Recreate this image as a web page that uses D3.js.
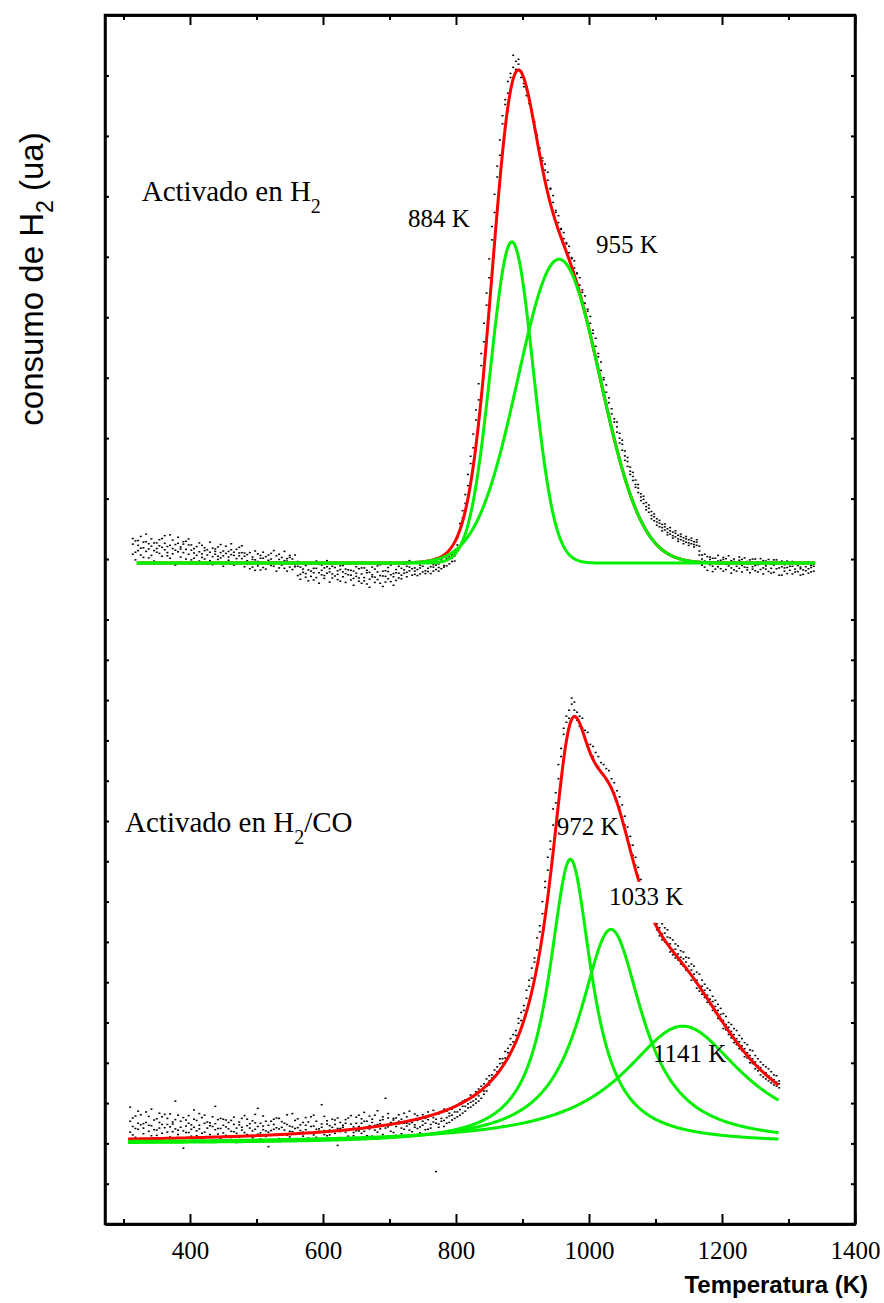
<!DOCTYPE html>
<html>
<head>
<meta charset="utf-8">
<script src="https://cdn.jsdelivr.net/npm/d3@7"></script>
<style>
  body { margin: 0; background: #fff; }
  svg { display: block; }
</style>
</head>
<body>
<svg id="chart" width="884" height="1303"></svg>
<script>
// TPR profiles: H2 consumption versus temperature for two activation treatments,
// with the measured signal (dots), the fitted envelope (red) and fitted peaks (green).

// Axis ticks
const xMajorTicks = [400, 600, 800, 1000, 1200, 1400];
const xMinorTicks = [300, 500, 700, 900, 1100, 1300];
const yTicksUpper = [15, 16.5, 18, 19.5, 21, 22.5, 24, 25.5, 27, 28.5];
const yTicksLower = [1, 2, 3, 4, 5, 6, 7, 8, 9, 10, 11, 12, 13, 14];

// Vertical offsets of the two stacked profiles (ua)
const offsetH2 = 16.4;
const offsetH2CO = 2.0;

// Fitted Gaussian peaks, sample activated in H2
const peaksH2 = [884, 955];
const heightsH2 = [7.97, 7.54];
const sigmasH2 = [32, 62];

// Fitted Lorentzian peaks, sample activated in H2/CO
const peaksH2CO = [972, 1033, 1141];
const heightsH2CO = [7.05, 5.31, 2.91];
const widthsH2CO = [39, 58, 110];

// Detector readings, activated in H2: [T (K), readings (ua)...]
const scanH2 = [
  [314,.47,.22,.61],[318,.27,.55,.08],[322,.56,.31,.44],[326,.2,.66,.37],[330,.38,.14,.52],
  [334,.53,.29,.72],[338,.13,.48,.35],[342,.42,.6,.19],[346,.31,.05,.5],[350,.5,.36,.27],
  [354,.24,.58,.43],[358,.61,.17,.39],[362,.33,.49,.68],[366,.18,.41,.26],[370,.44,.7,.12],
  [374,.36,.23,.57],[378,-.05,.46,.32],[382,.49,.28,.64],[386,.4,.15,.35],[390,.26,.53,.47],
  [394,.54,.34,.1],[398,.22,.45,.6],[402,.32,.08,.45],[406,.12,.36,.25],[410,.41,.19,-.02],
  [414,.05,.28,.5],[418,.23,.44,.14],[422,.38,.1,.31],[426,-.02,.33,.2],[430,.27,.52,.06],
  [434,.16,-.04,.37],[438,.35,.22,.29],[442,.09,.4,.17],[446,.46,.13,.26],[450,.18,.3,-.08],
  [454,.03,.24,.42],[458,.29,.07,.15],[462,.21,.48,.33],[466,-.05,.19,.27],[470,.34,.11,.02],
  [474,.25,.39,.18],[478,.11,.26,.43],[482,.17,-.09,.25],[486,-.03,.21,.06],[490,.26,.02,-.14],
  [494,-.1,.15,.09],[498,.08,-.18,.3],[502,.23,.04,-.07],[506,-.17,.12,.19],[510,.12,.27,-.11],
  [514,.01,-.15,.16],[518,.2,.07,-.02],[522,-.06,.24,.1],[526,.31,-.08,.03],[530,.03,.18,-.2],
  [534,-.12,.09,.22],[538,.14,-.05,.01],[542,.06,.29,-.13],[546,-.2,.11,.05],[550,.19,-.1,.14],
  [554,.1,.02,-.16],[558,-.04,.2,-.09],[562,-.08,-.31,.04],[566,-.28,-.1,-.4],[570,.01,-.23,-.15],
  [574,-.35,-.06,-.26],[578,-.17,-.44,0],[582,-.02,-.2,-.33],[586,-.42,-.13,-.24],[590,-.13,-.36,.05],
  [594,-.24,-.03,-.5],[598,-.05,-.29,-.18],[602,-.31,-.12,-.38],[606,.06,-.25,-.09],[610,-.22,-.47,-.14],
  [614,-.37,-.08,-.27],[618,-.11,-.32,.02],[622,-.19,-.41,-.28],[626,-.45,-.16,-.07],[630,-.06,-.34,-.22],
  [634,-.15,-.26,-.48],[638,-.29,-.02,-.17],[642,-.18,-.42,-.3],[646,-.38,-.2,-.55],[650,-.09,-.33,-.25],
  [654,-.45,-.14,-.37],[658,-.27,-.5,-.12],[662,-.12,-.36,-.44],[666,-.52,-.24,-.18],[670,-.23,-.4,-.6],
  [674,-.34,-.1,-.29],[678,-.15,-.48,-.35],[682,-.41,-.22,-.07],[686,-.04,-.31,-.5],[690,-.32,-.58,-.2],
  [694,-.47,-.19,-.33],[698,-.21,-.39,-.11],[702,-.29,-.05,-.46],[706,-.55,-.26,-.34],[710,-.16,-.43,-.24],
  [714,-.25,-.37,-.08],[718,-.39,-.13,-.3],[722,-.03,-.25,-.17],[726,-.23,-.08,-.34],[730,.06,-.19,-.1],
  [734,-.3,-.14,.02],[738,-.12,-.28,-.2],[742,.03,-.16,-.31],[746,-.27,-.05,-.12],[750,-.08,-.22,.04],
  [754,-.19,.01,-.26],[758,0,-.13,-.21],[762,-.26,-.09,.03],[766,-.1,-.2,-.04],[770,-.05,.07,-.16],
  [774,-.2,-.02,-.11],[778,.02,-.14,.08],[782,-.06,.05,-.1],[786,.08,-.07,.12],[790,-.02,.1,.15],
  [794,.12,.2,.04],[798,.05,.28,.18],
  [802,.45,.62],[806,.82,.98],[810,1.12,1.3],[814,1.48,1.7],[818,1.92,2.2],[822,2.47,2.65],
  [826,2.86,3.2],[830,3.55,3.8],[834,4.05,4.45],[838,4.9,5.2],[842,5.49,5.95],[846,6.4,6.7],
  [850,7.08,7.55],[854,8.02,8.35],[858,8.7,9.15],[862,9.58,9.85],[866,10.12,10.5],[870,10.9,11.1],
  [874,11.38,11.5],[878,11.66,11.95],[882,12.15,12.05],[886,12.3,12.6],[890,12.45,12.25],[894,12.38,12.5],
  [898,12.2,12.05],[902,11.9,11.82],[906,11.75,11.6],[910,11.5,11.4],[914,11.25,11.1],[918,10.95,10.8],
  [922,10.62,10.45],[926,10.3,10.15],[930,9.98,10.05],[934,9.9,9.75],[938,9.7,9.5],[942,9.28,9.3],
  [946,9.12,8.95],[950,8.75,8.7],[954,8.62,8.45],[958,8.3,8.28],[962,8.2,8.05],[966,7.92,7.95],
  [970,7.86,7.7],[974,7.58,7.55],[978,7.5,7.32],[982,7.2,7.18],[986,7.08,6.9],[990,6.78,6.72],
  [994,6.63,6.45],[998,6.3,6.25],[1002,6.12,5.95],[1006,5.78,5.7],[1010,5.58,5.38],[1014,5.2,5.12],
  [1018,4.99,4.78],[1022,4.6,4.55],[1026,4.42,4.24],[1030,4.1,3.98],[1034,3.83,3.7],[1038,3.58,3.5],
  [1042,3.38,3.25,3.5],[1046,3.1,3.22,2.98],[1050,2.95,2.8,3.05],[1054,2.66,2.78,2.55],[1058,2.52,2.4,2.62],
  [1062,2.28,2.38,2.2],[1066,2.15,2.05,2.25],[1070,1.95,2.06,1.88],[1074,1.86,1.75,1.95],[1078,1.64,1.72,1.55],
  [1082,1.58,1.48,1.66],[1086,1.4,1.5,1.32],[1090,1.36,1.26,1.44],[1094,1.18,1.28,1.1],[1098,1.15,1.05,1.22],
  [1102,1.02,1.1,.94],[1106,.99,.9,1.06],[1110,.88,.96,.8],[1114,.9,.82,.97],[1118,.76,.85,.7],
  [1122,.8,.72,.88],[1126,.68,.77,.62],[1130,.74,.65,.8],[1134,.6,.69,.54],[1138,.66,.58,.72],
  [1142,.55,.63,.48],[1146,.6,.52,.66],[1150,.5,.58,.44],[1154,.56,.48,.62],[1158,.46,.53,.4],
  [1162,.52,.44,.58],[1166,.42,.3,.2],[1170,.1,-.05,.2],[1174,.22,-.1,.05],[1178,.02,.16,-.18],
  [1182,.15,-.04,.09],[1186,-.08,.12,-.21],[1190,.12,-.15,.03],[1194,.05,.19,-.09],[1198,-.14,.07,-.02],
  [1202,.09,-.2,.14],[1206,-.03,.11,-.16],[1210,.18,-.07,.01],[1214,-.12,.06,-.25],[1218,.04,-.17,.1],
  [1222,-.2,.02,-.08],[1226,.07,-.13,.15],[1230,-.06,.09,-.22],[1234,.13,-.1,-.01],[1238,-.17,.04,-.11],
  [1242,.01,-.24,.08],[1246,-.09,.1,-.15],[1250,.1,-.06,-.19],[1254,-.22,.03,-.04],[1258,-.02,-.16,.11],
  [1262,.06,-.12,-.27],[1266,-.15,.05,-.07],[1270,0,-.21,.09],[1274,-.25,-.03,-.13],[1278,-.05,.08,-.23],
  [1282,.08,-.14,-.01],[1286,-.12,.02,-.3],[1290,-.3,-.09,.05],[1294,-.04,-.2,-.12],[1298,.05,-.11,-.26],
  [1302,-.18,.01,-.08],[1306,-.08,-.27,.04],[1310,.02,-.15,-.22],[1314,-.21,-.06,0],[1318,-.1,-.3,-.14],
  [1322,-.28,-.02,-.17],[1326,0,-.19,-.09],[1330,-.14,.03,-.25],[1334,-.06,-.22,-.11],[1338,-.2,-.08,-.03]
];

// Detector readings, activated in H2/CO: [T (K), readings (ua)...]
const scanH2CO = [
  [310,.55,.28,.9],[314,.21,.63,.42],[318,.68,.37,.15],[322,.35,.8,.5],[326,.12,.46,.71],
  [330,.49,.24,.38],[334,.78,.52,.1],[338,.3,.67,.45],[342,.44,.19,.85],[346,.09,.58,.34],
  [350,.61,.33,.2],[354,.38,.75,.52],[358,.25,.47,.66],[362,.72,.14,.39],[366,.47,.62,.28],
  [370,.16,.41,.73],[374,.53,.29,.48],[378,1.05,.36,.59],[382,.33,.7,.22],[386,.4,.55,.13],
  [390,-.12,.31,.64],[394,.58,.43,.27],[398,.27,.69,.5],[402,.46,.18,.35],[406,.83,.4,.6],
  [410,.19,.57,.31],[414,.36,.74,.45],[418,.64,.25,.12],[422,.28,.5,.7],[426,.05,.38,.53],
  [430,.51,.22,.44],[434,.42,.66,.17],[438,.92,.34,.49],[442,.23,.59,.37],[446,.37,.13,.62],
  [450,.6,.45,.26],[454,.41,.2,.58],[458,.18,.52,.36],[462,.57,.3,.1],[466,.29,.47,.65],
  [470,.02,.38,.25],[474,.46,.15,.53],[478,.33,.62,.4],[482,.69,.27,.19],[486,.22,.44,.6],
  [490,.38,.08,.49],[494,.14,.56,.31],[498,.51,.35,.72],[502,.87,.23,.42],[506,.26,.5,.11],
  [510,.43,.68,.34],[514,.31,.17,.55],[518,-.08,.45,.28],[522,.55,.32,.07],[526,.35,.6,.47],
  [530,.2,.39,.63],[534,.62,.12,.36],[538,.4,.54,.24],[542,.11,.33,.5],[546,.47,.71,.2],
  [550,.3,.16,.43],[554,.74,.41,.29],[558,.24,.57,.37],[562,.39,.1,.61],[566,.06,.46,.32],
  [570,.52,.28,.18],[574,.34,.64,.45],[578,.27,.13,.53],[582,.66,.42,.26],[586,.43,.21,.7],
  [590,.15,.55,.35],[594,.36,.3,.09],[598,.96,.48,.4],[602,.32,.67,.22],[606,.48,.19,.56],
  [610,.21,.44,.33],[614,.4,.6,.14],[618,.58,.25,.47],[622,-.05,.37,.63],[626,.37,.52,.29],
  [630,.45,.11,.4],[634,.28,.59,.5],[638,.63,.34,.18],[642,.35,.48,.69],[646,.19,.27,.41],
  [650,.5,.65,.31],[654,.42,.7,.31],[658,.61,.25,.5],[662,.3,.55,.77],[666,.55,.4,.19],
  [670,.44,.68,.36],[674,.18,.52,.6],[678,.7,.33,.45],[682,.47,.81,.28],[686,.36,.57,.49],
  [690,.59,.22,.66],[694,1.12,.46,.38],[698,.41,.63,.74],[702,.52,.3,.45],[706,.27,.58,.62],
  [710,.63,.42,.2],[714,.49,.71,.55],[718,.38,.24,.6],[722,.75,.5,.35],[726,.5,.66,.43],
  [730,.33,.48,.8],[734,.58,.29,.52],[738,.46,.73,.4],[742,.69,.37,.57],[746,.41,.6,.26],
  [750,.55,.45,.71],[754,.62,.34,.5],[758,.35,.78,.59],[762,.71,.47,.38],[766,.53,.64,.82],
  [770,-.7,.5,.6],[774,.48,.73,.4],[778,.77,.55,.62],[782,.57,.42,.85],[786,.64,.8,.5],
  [790,.52,.68,.75],[794,.7,.85,.58],[798,.62,.78,.9],[802,.78,.66,.95],[806,.84,1.0,.7],
  [810,.75,.92,1.05],[814,.92,.8,1.08],[818,.88,1.1,.98],[822,1.02,.9,1.2],[826,.95,1.15,1.05],
  [830,1.1,1.28,1.0],[834,1.18,1.05,1.35],[838,1.12,1.3,1.42],[842,1.3,1.48,1.22],[846,1.42,1.3,1.6],
  [850,1.55,1.68,1.45],
  [854,1.7,1.62],[858,1.68,1.82],[862,1.9,1.78],[866,1.98,2.1],[870,2.1,2.0],[874,2.12,2.28],
  [878,2.36,2.25],[882,2.45,2.6],[886,2.52,2.7],[890,2.8,2.68],[894,2.98,3.1],[898,3.05,3.25],
  [902,3.42,3.3],[906,3.6,3.8],[910,3.9,4.05],[914,4.1,4.35],[918,4.6,4.5],[922,4.8,5.1],
  [926,5.4,5.25],[930,5.7,6.0],[934,6.35,6.5],[938,6.78,7.1],[942,7.5,7.3],[946,7.9,8.3],
  [950,8.7,8.45],[954,9.05,9.4],[958,9.8,9.6],[962,10.15,10.3],[966,10.45,10.6],[970,10.75,10.55],
  [974,10.9,11.05],[978,10.95,10.75],[982,10.7,10.5],[986,10.35,10.6],[990,10.55,10.3],[994,10.05,10.25],
  [998,10.2,9.9],[1002,9.65,9.9],[1006,9.85,9.6],[1010,9.42,9.7],[1014,9.6,9.35],[1018,9.2,9.45],
  [1022,9.4,9.15],[1026,9.05,9.3],[1030,9.25,8.95],[1034,8.82,9.05],[1038,8.95,8.7],[1042,8.5,8.75],
  [1046,8.6,8.35],[1050,8.1,8.4],[1054,8.12,7.9],[1058,7.6,7.85],[1062,7.62,7.4],[1066,7.15,7.4],
  [1070,7.1,6.9],[1074,6.65,6.85],[1078,6.55,6.4],[1082,6.3,6.45],[1086,6.2,6.0],[1090,5.95,6.1],
  [1094,5.8,5.65],[1098,5.62,5.75],
  [1102,5.6,5.3,5.45],[1106,5.15,5.5,5.35],[1110,5.45,5.2,5.05],[1114,5.0,5.35,5.22],[1118,5.3,4.95,5.12],
  [1122,4.75,5.1,4.95],[1126,5.05,4.8,4.68],[1130,4.6,4.95,4.82],[1134,4.9,4.55,4.7],[1138,4.45,4.78,4.62],
  [1142,4.75,4.4,4.58],[1146,4.3,4.62,4.5],[1150,4.6,4.25,4.4],[1154,4.05,4.45,4.3],[1158,4.4,4.08,4.2],
  [1162,3.85,4.25,4.05],[1166,4.2,3.9,3.78],[1170,3.7,4.05,3.9],[1174,3.95,3.62,3.8],[1178,3.5,3.85,3.68],
  [1182,3.8,3.45,3.58],[1186,3.3,3.65,3.52],[1190,3.55,3.25,3.4],[1194,3.1,3.45,3.3],[1198,3.35,3.05,3.2],
  [1202,2.85,3.22,3.05],[1206,3.15,2.82,2.95],[1210,2.7,3.0,2.88],[1214,2.95,2.62,2.78],[1218,2.5,2.85,2.7],
  [1222,2.8,2.45,2.6],[1226,2.35,2.68,2.52],[1230,2.6,2.3,2.42],[1234,2.15,2.5,2.35],[1238,2.45,2.12,2.25],
  [1242,2.0,2.32,2.18],[1246,2.3,1.98,2.1],[1250,1.85,2.18,2.02],[1254,2.1,1.8,1.92],[1258,1.7,2.02,1.88],
  [1262,1.95,1.65,1.78],[1266,1.6,1.9,1.75],[1270,1.85,1.55,1.68],[1274,1.5,1.78,1.62],[1278,1.7,1.45,1.58],
  [1282,1.42,1.68,1.52],[1286,1.55,1.38,1.48]
];

// Text annotations placed in data coordinates: T (K), ua
const peakLabels = [
  { text: "884 K", t: 728, v: 24.74 },
  { text: "955 K", t: 1010.5, v: 24.1 },
  { text: "972 K", t: 951.4, v: 9.65 },
  { text: "1033 K", t: 1030.1, v: 7.92, masked: true },
  { text: "1141 K", t: 1096.2, v: 4.03 }
];

const svg = d3.select("#chart");
const frame = { left: 105, right: 855, top: 15, bottom: 1224 };

const x = d3.scaleLinear().domain([272.2, 1400]).range([frame.left, frame.right]);
const y = d3.scaleLinear().domain([0, 30]).range([frame.bottom, frame.top]);

const serif = "'Liberation Serif', 'Times New Roman', serif";
const sans = "'Liberation Sans', Arial, sans-serif";
const redColor = "#ff0000";
const greenColor = "#00f000";

// Fit models
const gauss = (t, c, a, s) => a * Math.exp(-((t - c) * (t - c)) / (2 * s * s));
const lorentz = (t, c, a, w) => a / (1 + ((t - c) / w) * ((t - c) / w));

const gridH2 = d3.range(320, 1340.5, 1);
const gridH2CO = d3.range(307, 1285.5, 1);

const line = d3.line().x(d => x(d[0])).y(d => y(d[1]));

const layerDots = svg.append("g");
const layerRed = svg.append("g");
const layerMask = svg.append("g");
const layerGreen = svg.append("g");
const layerText = svg.append("g");
const layerAxes = svg.append("g");

// Measured points: every reading of a temperature step becomes a dot
function drawDots(scan, offset) {
  const pts = scan.flatMap(row => row.slice(1).map(v => [row[0], v]));
  layerDots.append("g").selectAll("rect")
    .data(pts)
    .join("rect")
    .attr("x", d => x(d[0]) - 1)
    .attr("y", d => y(d[1] + offset) - 0.75)
    .attr("width", 2)
    .attr("height", 1.5)
    .attr("fill", "#000");
}
drawDots(scanH2, offsetH2);
drawDots(scanH2CO, offsetH2CO);

// Envelope (sum of fitted peaks)
const envH2 = gridH2.map(t => [t, offsetH2 + d3.sum(peaksH2, (c, i) => gauss(t, c, heightsH2[i], sigmasH2[i]))]);
const envH2CO = gridH2CO.map(t => [t, offsetH2CO + d3.sum(peaksH2CO, (c, i) => lorentz(t, c, heightsH2CO[i], widthsH2CO[i]))]);

layerRed.selectAll("path")
  .data([envH2, envH2CO])
  .join("path")
  .attr("d", line)
  .attr("fill", "none")
  .attr("stroke", redColor)
  .attr("stroke-width", 3)
  .attr("stroke-linejoin", "round");

// Individual fitted peaks
const compH2 = peaksH2.map((c, i) => gridH2.map(t => [t, offsetH2 + gauss(t, c, heightsH2[i], sigmasH2[i])]));
const compH2CO = peaksH2CO.map((c, i) => gridH2CO.map(t => [t, offsetH2CO + lorentz(t, c, heightsH2CO[i], widthsH2CO[i])]));

layerGreen.selectAll("path")
  .data(compH2.concat(compH2CO))
  .join("path")
  .attr("d", line)
  .attr("fill", "none")
  .attr("stroke", greenColor)
  .attr("stroke-width", 3)
  .attr("stroke-linejoin", "round");

// Sample titles
function title(t, v, parts) {
  const txt = layerText.append("text")
    .attr("x", x(t)).attr("y", y(v))
    .attr("font-family", serif).attr("font-size", 29).attr("fill", "#000");
  parts.forEach(p => {
    const ts = txt.append("tspan").text(p.s);
    if (p.sub) ts.attr("font-size", 20).attr("dy", 12);
    if (p.back) ts.attr("dy", -12);
  });
}
title(327.4, 25.39, [{ s: "Activado en H" }, { s: "2", sub: true }]);
title(302.3, 9.73, [{ s: "Activado en H" }, { s: "2", sub: true }, { s: "/CO", back: true }]);

// Peak position labels
peakLabels.forEach(p => {
  const txt = layerText.append("text")
    .attr("x", x(p.t)).attr("y", y(p.v))
    .attr("font-family", serif).attr("font-size", 25).attr("fill", "#000")
    .text(p.text);
  if (p.masked) {
    const b = txt.node().getBBox();
    layerMask.append("rect")
      .attr("x", b.x - 3).attr("y", b.y - 1)
      .attr("width", b.width + 6).attr("height", b.height + 14)
      .attr("fill", "#fff");
  }
});

// Axes with inward ticks
const axisStroke = 2.5;
function styleAxis(g) {
  g.selectAll("path.domain").attr("stroke", "#000").attr("stroke-width", axisStroke);
  g.selectAll(".tick line").attr("stroke", "#000").attr("stroke-width", 2);
}

const axisB = layerAxes.append("g").attr("transform", `translate(0,${frame.bottom})`)
  .call(d3.axisBottom(x).tickValues(xMajorTicks).tickSizeInner(-10).tickSizeOuter(0).tickPadding(17).tickFormat(d3.format("d")));
axisB.call(styleAxis);
axisB.selectAll(".tick text").attr("font-family", serif).attr("font-size", 25).attr("fill", "#000");
layerAxes.append("g").attr("transform", `translate(0,${frame.bottom})`)
  .call(d3.axisBottom(x).tickValues(xMinorTicks).tickSizeInner(-5).tickSizeOuter(0).tickFormat(""))
  .call(styleAxis);

layerAxes.append("g").attr("transform", `translate(0,${frame.top})`)
  .call(d3.axisTop(x).tickValues(xMajorTicks).tickSizeInner(-10).tickSizeOuter(0).tickFormat(""))
  .call(styleAxis);
layerAxes.append("g").attr("transform", `translate(0,${frame.top})`)
  .call(d3.axisTop(x).tickValues(xMinorTicks).tickSizeInner(-5).tickSizeOuter(0).tickFormat(""))
  .call(styleAxis);

const yTicks = yTicksLower.concat(yTicksUpper);
layerAxes.append("g").attr("transform", `translate(${frame.left},0)`)
  .call(d3.axisLeft(y).tickValues(yTicks).tickSizeInner(-4).tickSizeOuter(0).tickFormat(""))
  .call(styleAxis);
layerAxes.append("g").attr("transform", `translate(${frame.right},0)`)
  .call(d3.axisRight(y).tickValues(yTicks).tickSizeInner(-4).tickSizeOuter(0).tickFormat(""))
  .call(styleAxis);

// Plot frame
layerAxes.append("rect")
  .attr("x", frame.left).attr("y", frame.top)
  .attr("width", frame.right - frame.left).attr("height", frame.bottom - frame.top)
  .attr("fill", "none").attr("stroke", "#000").attr("stroke-width", axisStroke);

// Axis titles
svg.append("text")
  .attr("x", 868).attr("y", 1293)
  .attr("text-anchor", "end")
  .attr("font-family", sans).attr("font-weight", "bold").attr("font-size", 24)
  .text("Temperatura (K)");

const yTitle = svg.append("text")
  .attr("transform", "translate(43,279) rotate(-90)")
  .attr("text-anchor", "middle")
  .attr("font-family", sans).attr("font-size", 33);
yTitle.append("tspan").text("consumo de H");
yTitle.append("tspan").attr("font-size", 23).attr("dy", 10).text("2");
yTitle.append("tspan").attr("dy", -10).text(" (ua)");
</script>
</body>
</html>
